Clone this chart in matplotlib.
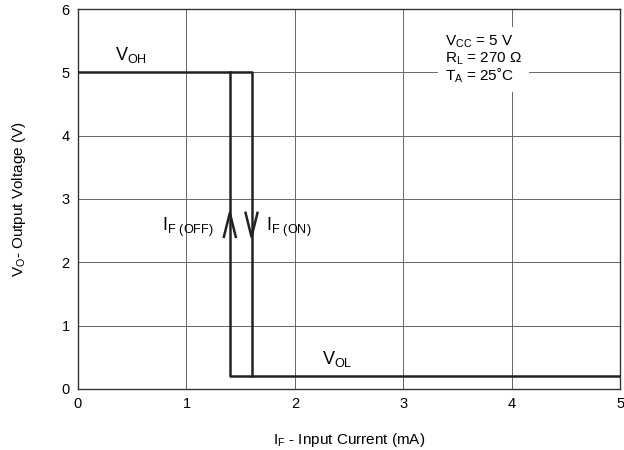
import matplotlib
matplotlib.use("Agg")
import matplotlib.pyplot as plt

plt.rcParams['font.family'] = ['Liberation Sans', 'DejaVu Sans']
plt.rcParams['mathtext.default'] = 'regular'

# transfer curve (hysteresis loop)
on_x = [0, 1.6, 1.6]
on_y = [5, 5, 0.2]
off_x = [5, 1.4, 1.4]
off_y = [0.2, 0.2, 5]

x_ticks = [0, 1, 2, 3, 4, 5]
y_ticks = [0, 1, 2, 3, 4, 5, 6]

fig = plt.figure(figsize=(6.24, 4.5), dpi=100)
ax = fig.add_axes([0.125, 0.136, 0.869, 0.844])

ax.set_xlim(0, 5)
ax.set_ylim(0, 6)
ax.set_xticks(x_ticks)
ax.set_yticks(y_ticks)
ax.grid(True, color='#666666', linewidth=0.7)
ax.tick_params(labelsize=10.5, length=0, pad=6)
for s in ax.spines.values():
    s.set_linewidth(1.0)
    s.set_color('#333333')

ax.plot(on_x, on_y, color='#222222', linewidth=1.8, zorder=3)
ax.plot(off_x, off_y, color='#222222', linewidth=1.8, zorder=3)

# arrow heads (chevrons)
dx = 0.055
ax.plot([off_x[1] - dx, off_x[1], off_x[1] + dx], [2.40, 2.78, 2.40],
        color='#222222', linewidth=1.8, zorder=3)
ax.plot([on_x[1] - dx, on_x[1], on_x[1] + dx], [2.78, 2.40, 2.78],
        color='#222222', linewidth=1.8, zorder=3)

fs = 13
ax.text(0.34, 5.28, '$V_{OH}$', fontsize=fs, ha='left', va='center')
ax.text(2.25, 0.47, '$V_{OL}$', fontsize=fs, ha='left', va='center')
ax.text(1.25, 2.55, '$I_{F\\ (OFF)}$', fontsize=fs, ha='right', va='center')
ax.text(1.73, 2.55, '$I_{F\\ (ON)}$', fontsize=fs, ha='left', va='center')

ax.text(3.38, 5.2, '$V_{CC}$ = 5 V\n$R_L$ = 270 Ω\n$T_A$ = 25˚C',
        fontsize=11, ha='left', va='center', linespacing=1.0,
        bbox=dict(facecolor='white', edgecolor='none', pad=5), zorder=4)

ax.set_xlabel('$I_F$ - Input Current (mA)', fontsize=11, labelpad=14)
ax.set_ylabel('$V_O$- Output Voltage (V)', fontsize=11, labelpad=24)

fig.savefig('out.png', dpi=100)
